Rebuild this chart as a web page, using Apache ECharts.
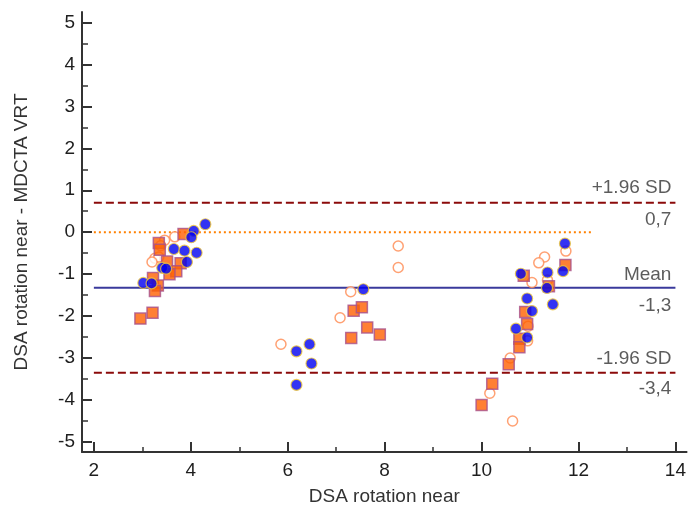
<!DOCTYPE html>
<html><head><meta charset="utf-8">
<script src="https://cdn.jsdelivr.net/npm/echarts@6/dist/echarts.min.js"></script>
<style>html,body{margin:0;padding:0;background:#fff}#c{width:689px;height:513px}</style>
</head><body><div id="c"></div>
<script>
// ---- data ----
const blueCircles = [
  [4.30,0.19],[4.06,0.03],[4.01,-0.12],[3.65,-0.40],[3.87,-0.44],[4.12,-0.49],[3.92,-0.71],
  [3.41,-0.85],[3.49,-0.87],[3.02,-1.21],[3.19,-1.22],
  [7.56,-1.36],[6.18,-2.84],[6.45,-2.67],[6.49,-3.13],[6.18,-3.64],
  [11.72,-0.27],[11.68,-0.93],[11.36,-0.96],[10.81,-0.99],[11.35,-1.33],[10.94,-1.58],
  [11.47,-1.72],[11.04,-1.88],[10.71,-2.30],[10.94,-2.51]
];
const orangeSquares = [
  [3.85,-0.04],[3.34,-0.26],[3.36,-0.42],[3.51,-0.70],[3.79,-0.74],[3.70,-0.93],[3.56,-1.00],
  [3.22,-1.09],[3.32,-1.27],[3.26,-1.40],[3.21,-1.92],[2.96,-2.06],
  [7.36,-1.87],[7.53,-1.79],[7.64,-2.27],[7.90,-2.44],[7.31,-2.52],
  [11.73,-0.78],[10.87,-1.04],[11.39,-1.29],[10.90,-1.90],[10.94,-2.19],[10.78,-2.54],
  [10.78,-2.74],[10.56,-3.15],[10.22,-3.61],[10.00,-4.12]
];
const hollowCircles = [
  [3.67,-0.11],[3.46,-0.19],[3.38,-0.32],[3.26,-0.62],[3.34,-0.59],[3.20,-0.71],
  [8.28,-0.33],[8.28,-0.84],[7.30,-1.42],[7.08,-2.04],[5.86,-2.67],
  [11.74,-0.45],[11.30,-0.59],[11.18,-0.73],[11.04,-1.20],[11.36,-1.14],[10.96,-2.24],
  [10.95,-2.59],[10.59,-3.00],[10.17,-3.84],[10.64,-4.50]
];
const meanDiff = -1.325;
const upperLoA = 0.70;
const lowerLoA = -3.35;
const lineStartX = 2;
const lineEndX = 14;
const zeroEndX = 12.27;
const xMajorTicks = [2,4,6,8,10,12,14];
const xMinorTicks = [3,5,7,9,11,13];
const yMajorTicks = [-5,-4,-3,-2,-1,0,1,2,3,4,5];
const yMinorTicks = [-4.5,-3.5,-2.5,-1.5,-0.5,0.5,1.5,2.5,3.5,4.5];
const upperLabels = ['+1.96 SD','0,7'];
const meanLabels = ['Mean','-1,3'];
const lowerLabels = ['-1.96 SD','-3,4'];
const xTitle = 'DSA rotation near';
const yTitle = 'DSA rotation near - MDCTA VRT';

// ---- chart ----
const FF = '"Liberation Sans", Arial, sans-serif';
const AX = '#333';
const TXT = '#1e1e1e';
const XMIN = 1.755, XMAX = 14.23, YMIN = -5.24, YMAX = 5.25;
const chart = echarts.init(document.getElementById('c'), null, {renderer:'canvas'});

function refLabelItems(y, labels, dTop, dBot) {
  return [
    {value:[lineEndX, y], label:{formatter:labels[0], position:'top', distance:dTop}},
    {value:[lineEndX, y], label:{formatter:labels[1], position:'bottom', distance:dBot}}
  ];
}

const option = {
  animation:false,
  backgroundColor:'#fff',
  grid:{left:82, right:1, top:12, bottom:61, containLabel:false},
  xAxis:[
    {type:'value', min:XMIN, max:XMAX,
     axisLine:{onZero:false, lineStyle:{color:AX, width:2}},
     axisTick:{inside:true, length:10, customValues:xMajorTicks, lineStyle:{color:AX, width:2}},
     axisLabel:{customValues:xMajorTicks, fontSize:19, color:TXT, margin:9, fontFamily:FF},
     splitLine:{show:false},
     name:xTitle, nameLocation:'middle', nameGap:35,
     nameTextStyle:{fontSize:19, color:'#333', fontFamily:FF}},
    {type:'value', min:XMIN, max:XMAX, position:'bottom',
     axisLine:{show:false, onZero:false},
     axisTick:{inside:true, length:5, customValues:xMinorTicks, lineStyle:{color:AX, width:1.5}},
     axisLabel:{show:false}, splitLine:{show:false}}
  ],
  yAxis:[
    {type:'value', min:YMIN, max:YMAX,
     axisLine:{onZero:false, lineStyle:{color:AX, width:2}},
     axisTick:{inside:true, length:10, customValues:yMajorTicks, lineStyle:{color:AX, width:2}},
     axisLabel:{customValues:yMajorTicks, fontSize:19, color:TXT, margin:7, fontFamily:FF},
     splitLine:{show:false},
     name:yTitle, nameLocation:'middle', nameGap:51, nameRotate:90,
     nameTextStyle:{fontSize:19, color:'#333', fontFamily:FF}},
    {type:'value', min:YMIN, max:YMAX, position:'left',
     axisLine:{show:false, onZero:false},
     axisTick:{inside:true, length:6, customValues:yMinorTicks, lineStyle:{color:AX, width:1.5}},
     axisLabel:{show:false}, splitLine:{show:false}}
  ],
  series:[
    {type:'line', name:'zero', data:[[lineStartX,0],[zeroEndX,0]], showSymbol:false, silent:true,
     lineStyle:{color:'#ff8000', width:2, type:[2,3]}, z:1},
    {type:'line', name:'upper', data:[[lineStartX,upperLoA],[lineEndX,upperLoA]], showSymbol:false, silent:true,
     lineStyle:{color:'#8b0a0a', width:2, type:[8,4]}, z:1},
    {type:'line', name:'lower', data:[[lineStartX,lowerLoA],[lineEndX,lowerLoA]], showSymbol:false, silent:true,
     lineStyle:{color:'#8b0a0a', width:2, type:[8,4]}, z:1},
    {type:'line', name:'mean', data:[[lineStartX,meanDiff],[lineEndX,meanDiff]], showSymbol:false, silent:true,
     lineStyle:{color:'#3a3a9c', width:2}, z:1},
    {type:'scatter', name:'hollow', data:hollowCircles, symbol:'circle', symbolSize:10,
     itemStyle:{color:'#fff', borderColor:'#ff8a50', borderWidth:1.5}, z:2},
    {type:'scatter', name:'squares', data:orangeSquares, symbol:'rect', symbolSize:11,
     itemStyle:{color:'#ff6000', borderColor:'#a8508a', borderWidth:1.5}, z:3},
    {type:'scatter', name:'blue', data:blueCircles, symbol:'circle', symbolSize:11,
     itemStyle:{color:'#0000f0', borderColor:'#f0c838', borderWidth:1.2}, z:4},
    {type:'scatter', name:'refLabels', silent:true, symbolSize:1,
     itemStyle:{color:'rgba(0,0,0,0)'},
     label:{show:true, align:'right', offset:[-4,0], fontSize:19, color:'#333', fontFamily:FF},
     data:[].concat(refLabelItems(upperLoA, upperLabels, 5, 7),
                    refLabelItems(meanDiff, meanLabels, 3, 8),
                    refLabelItems(lowerLoA, lowerLabels, 4, 6)), z:5}
  ]
};
chart.setOption(option);
</script></body></html>
